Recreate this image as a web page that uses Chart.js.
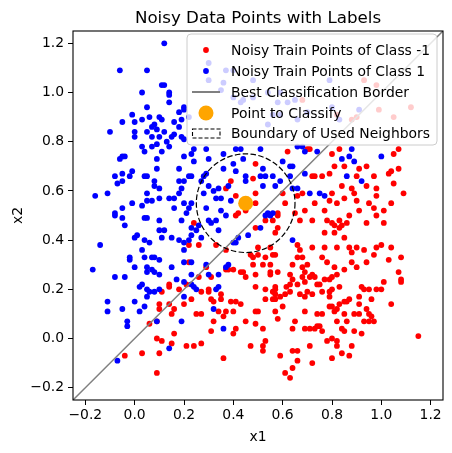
<!DOCTYPE html>
<html><head><meta charset="utf-8">
<script src="https://cdn.jsdelivr.net/npm/chart.js@4.4.1/dist/chart.umd.min.js"></script>
<style>html,body{margin:0;padding:0;background:#fff}</style>
</head><body>
<canvas id="c" width="452" height="453" style="display:block;width:452px;height:453px"></canvas>
<script>
const chartTitle = "Noisy Data Points with Labels";
const xLabel = "x1";
const yLabel = "x2";
const xTicks = [-0.2, 0.0, 0.2, 0.4, 0.6, 0.8, 1.0, 1.2];
const yTicks = [-0.2, 0.0, 0.2, 0.4, 0.6, 0.8, 1.0, 1.2];
const axisMin = -0.25, axisMax = 1.25;
const legendLabels = ["Noisy Train Points of Class -1", "Noisy Train Points of Class 1", "Best Classification Border", "Point to Classify", "Boundary of Used Neighbors"];
const pointToClassify = [0.45, 0.55];
const neighborRadius = 0.2;
const borderLine = [[-0.25, -0.25], [1.25, 1.25]];

const classNeg = [
[0.49,0.71],[0.48,0.65],[0.39,0.64],[0.37,0.61],[0.41,0.58],[0.49,0.59],[0.45,0.52],[0.49,0.55],[0.42,0.51],
[0.24,0.47],[0.22,0.38],[0.26,0.38],[0.22,0.31],[0.29,0.29],[0.26,0.25],[0.31,0.25],[0.14,0.22],[0.14,0.21],[0.18,0.20],[0.21,0.22],[0.11,0.19],[0.27,0.19],[0.30,0.19],[0.23,0.16],[0.10,0.14],[0.10,0.12],[0.14,0.14],[0.16,0.12],[0.15,0.10],[0.20,0.14],[0.06,0.06],[0.09,0.07],[0.25,0.10],[0.27,0.10],[0.16,0.02],[0.09,0.00],[0.11,-0.01],[0.15,-0.02],[0.21,-0.03],[0.24,-0.03],[0.27,-0.02],[0.03,-0.06],[0.10,-0.06],[-0.04,-0.07],[0.09,-0.14],[0.36,-0.08],[0.33,0.38],[0.37,0.36],[0.37,0.28],[0.38,0.28],[0.40,0.28],[0.43,0.27],[0.44,0.27],[0.45,0.25],[0.49,0.26],[0.49,0.21],[0.48,0.30],[0.48,0.33],[0.47,0.34],[0.50,0.37],[0.49,0.45],[0.41,0.50],[0.30,0.20],[0.31,0.16],[0.35,0.18],[0.35,0.16],[0.39,0.15],[0.41,0.15],[0.43,0.14],[0.32,0.15],[0.34,0.11],[0.37,0.11],[0.40,0.11],[0.36,0.09],[0.32,0.07],[0.31,0.03],[0.45,0.07],[0.41,0.04],[0.40,0.02],[0.47,-0.03],[0.49,0.11],[0.49,0.06],
[0.62,0.76],[0.70,0.77],[0.71,0.77],[0.83,0.77],[0.80,0.75],[1.05,0.75],[1.07,0.77],[0.81,0.70],[0.85,0.70],[0.91,0.69],[0.94,0.70],[1.04,0.68],[1.07,0.69],[0.72,0.66],[0.73,0.66],[0.76,0.66],[0.79,0.67],[0.90,0.66],[0.97,0.66],[1.03,0.67],[1.05,0.63],[0.60,0.59],[0.61,0.55],[0.66,0.58],[0.68,0.59],[0.84,0.62],[0.88,0.61],[0.89,0.59],[0.94,0.62],[0.98,0.61],[0.98,0.58],[1.09,0.59],[0.80,0.59],[0.73,0.55],[0.79,0.56],[0.82,0.55],[0.85,0.57],[0.90,0.56],[0.95,0.55],[0.97,0.53],[1.01,0.52],[1.04,0.55],[0.69,0.52],[0.65,0.51],[0.58,0.51],[0.77,0.52],[0.91,0.52],
[0.53,0.48],[0.56,0.48],[0.58,0.50],[0.58,0.45],[0.57,0.43],[0.67,0.48],[0.72,0.48],[0.78,0.48],[0.80,0.47],[0.81,0.46],[0.83,0.45],[0.84,0.46],[0.86,0.47],[0.87,0.50],[0.83,0.48],[0.77,0.43],[0.81,0.43],[0.85,0.41],[0.94,0.47],[0.98,0.50],[1.01,0.47],[0.55,0.37],[0.56,0.34],[0.57,0.34],[0.53,0.33],[0.50,0.34],[0.52,0.30],[0.55,0.30],[0.55,0.27],[0.55,0.26],[0.58,0.27],[0.66,0.38],[0.67,0.36],[0.66,0.33],[0.68,0.33],[0.64,0.30],[0.72,0.37],[0.77,0.37],[0.82,0.37],[0.87,0.37],[0.88,0.35],[0.90,0.37],[0.93,0.36],[0.97,0.34],[0.98,0.37],[1.00,0.38],[1.04,0.37],[1.08,0.33],[1.03,0.32],[0.76,0.33],[0.78,0.31],[0.88,0.31],[0.90,0.29],[0.94,0.31],[0.85,0.28],[0.81,0.29],[0.68,0.29],[0.70,0.30],[0.69,0.27],[0.68,0.25],[0.72,0.26],[0.63,0.26],[0.64,0.24],[0.615,0.21],[0.63,0.22],[0.73,0.25],[0.71,0.25],[0.74,0.22],[0.77,0.24],[0.79,0.24],[0.80,0.25],[0.82,0.26],[0.66,0.22],[0.69,0.23],[1.01,0.23],[1.07,0.27],[1.08,0.23],[1.08,0.24],[0.57,0.21],[0.57,0.20],[0.57,0.18],[0.56,0.19],[0.53,0.20],[0.61,0.18],[0.59,0.17],[0.63,0.19],[0.67,0.18],[0.70,0.19],[0.72,0.18],[0.76,0.19],[0.79,0.19],[0.83,0.21],[0.80,0.20],[0.75,0.22],[0.92,0.21],[0.93,0.20],[0.95,0.20],[0.98,0.20],[1.00,0.20],[0.91,0.17],[0.86,0.15],[0.87,0.16],[0.96,0.16],[0.79,0.17],[0.53,0.16],[0.56,0.16],[0.57,0.16],[0.60,0.13],[0.69,0.17],[0.57,0.11],[0.58,0.08],[0.50,0.11],[0.79,0.13],[0.80,0.13],[0.82,0.12],[0.81,0.11],[0.83,0.14],[0.85,0.15],[0.91,0.14],[0.91,0.10],[0.89,0.10],[0.94,0.12],[0.95,0.10],[0.96,0.09],[0.97,0.07],[0.93,0.07],[0.95,0.07],[0.85,0.10],[0.69,0.11],[0.74,0.10],[0.76,0.10],[0.65,0.07],[0.86,0.07],[0.82,0.07],[1.04,0.14],[0.52,0.04],[0.64,0.04],[0.69,0.04],[0.71,0.04],[0.73,0.04],[0.74,0.05],[0.76,0.03],[0.75,0.05],[0.84,0.04],[0.85,0.03],[0.89,0.03],[0.92,0.02],[0.53,-0.01],[0.52,-0.03],[0.52,-0.05],[0.71,-0.03],[0.78,-0.01],[0.80,0.00],[0.82,-0.01],[0.82,-0.03],[0.84,-0.06],[0.88,-0.03],[0.64,-0.05],[0.66,-0.05],[0.59,-0.07],[0.66,-0.09],[0.72,-0.10],[0.80,-0.08],[0.87,-0.07],[0.64,-0.12],[0.61,-0.14],[0.63,-0.16],[1.15,0.01],
[0.68,0.97],[0.93,1.05],[0.98,1.03],[1.05,0.90],[1.12,0.94],[0.82,0.91],[0.88,0.89],[0.90,0.90],[0.99,0.93]
];

const classPos = [
[0.12,1.20],[-0.06,1.09],[0.05,1.09],[0.11,1.03],[0.12,1.03],[0.14,1.00],[0.03,1.00],[0.14,0.99],[0.14,0.96],[0.05,0.94],[0.20,0.94],[0.20,0.93],[0.18,0.92],[-0.01,0.91],[-0.05,0.88],[0.00,0.88],[0.03,0.89],[0.06,0.90],[0.10,0.90],[0.11,0.89],[0.16,0.88],[0.19,0.89],[0.22,0.90],[-0.10,0.84],[0.00,0.84],[0.05,0.84],[0.07,0.86],[0.08,0.87],[0.09,0.85],[0.12,0.84],[0.18,0.86],[0.16,0.83],[0.10,0.82],[0.07,0.82],[0.00,0.82],[0.13,0.80],[0.19,0.82],[0.20,0.81],[0.15,0.82],[0.03,0.78],[0.09,0.79],[0.14,0.78],[0.11,0.76],[0.04,0.76],[0.07,0.78],[-0.05,0.74],[-0.04,0.74],[-0.06,0.73],[0.09,0.73],[0.20,0.74],[0.24,0.77],[0.23,0.75],[0.29,0.77],[0.24,0.72],[0.30,0.73],[0.36,0.75],[-0.01,0.68],[-0.02,0.66],[-0.05,0.67],[-0.08,0.66],[0.05,0.66],[0.04,0.66],[0.09,0.69],[0.18,0.69],[0.22,0.66],[0.23,0.66],[0.28,0.66],[0.29,0.67],[0.36,0.69],[0.41,0.68],[0.40,0.71],[0.44,0.73],[0.41,0.77],[0.43,0.77],[0.45,0.66],[0.45,0.64],[-0.11,0.59],[-0.16,0.58],[-0.07,0.63],[-0.05,0.64],[0.08,0.64],[0.08,0.62],[0.10,0.61],[0.18,0.64],[0.20,0.64],[0.19,0.61],[0.18,0.59],[0.16,0.57],[0.14,0.57],[0.05,0.59],[0.05,0.56],[0.07,0.56],[0.10,0.57],[0.03,0.54],[-0.01,0.55],[-0.05,0.53],[-0.08,0.51],[0.16,0.53],[0.20,0.55],[0.21,0.51],[0.22,0.53],[0.23,0.55],[0.28,0.59],[0.32,0.60],[0.34,0.61],[0.38,0.62],[0.33,0.57],[0.35,0.57],[0.39,0.56],[0.29,0.53],[0.35,0.52],[0.27,0.64],[0.30,0.62],
[-0.08,0.50],[-0.05,0.49],[-0.04,0.46],[0.04,0.49],[0.05,0.49],[0.10,0.48],[0.10,0.44],[0.19,0.48],[0.12,0.44],[0.11,0.41],[0.15,0.41],[0.01,0.42],[0.00,0.41],[0.04,0.40],[0.06,0.39],[0.03,0.36],[-0.14,0.38],[0.18,0.40],[0.20,0.39],[0.22,0.40],[0.23,0.42],[0.20,0.36],[0.23,0.45],[0.25,0.44],[0.26,0.46],[0.27,0.41],[0.30,0.48],[0.31,0.47],[0.33,0.48],[0.34,0.44],[0.37,0.50],[-0.02,0.33],[-0.02,0.32],[0.04,0.33],[0.07,0.33],[0.08,0.33],[0.10,0.32],[0.00,0.29],[0.05,0.29],[0.07,0.28],[0.05,0.27],[0.08,0.27],[0.10,0.26],[-0.17,0.28],[-0.04,0.25],[-0.08,0.25],[0.15,0.29],[0.20,0.31],[0.23,0.31],[0.23,0.26],[0.17,0.24],[0.20,0.23],[0.03,0.22],[0.02,0.21],[0.05,0.20],[0.06,0.19],[0.08,0.19],[0.05,0.17],[0.10,0.20],[0.23,0.22],[0.24,0.21],[0.25,0.20],[0.20,0.17],[-0.11,0.15],[-0.11,0.11],[-0.05,0.12],[0.00,0.15],[0.02,0.11],[0.04,0.13],[-0.03,0.07],[-0.03,0.05],[0.09,0.07],[0.19,0.07],[0.14,-0.04],[-0.07,-0.09],[0.29,0.30],[0.30,0.26],[0.34,0.26],[0.37,0.29],[0.38,0.30],[0.34,0.21],[0.33,0.20],[0.32,0.12],[0.36,0.04],[0.40,0.39],[0.41,0.39],[0.42,0.41],[0.46,0.42],
[0.51,0.77],[0.66,0.78],[0.68,0.78],[0.69,0.76],[0.74,0.76],[0.88,0.77],[0.84,0.73],[0.87,0.74],[0.89,0.72],[1.00,0.74],[0.60,0.72],[0.63,0.70],[0.64,0.70],[0.52,0.69],[0.53,0.66],[0.56,0.66],[0.51,0.66],[0.57,0.62],[0.59,0.64],[0.63,0.66],[0.69,0.67],[0.64,0.61],[0.66,0.61],[0.86,0.66],[0.92,0.64],[0.71,0.59],[0.75,0.59],[0.77,0.58],[0.52,0.62],[0.54,0.51],[0.56,0.51],
[0.51,0.45],[0.55,0.50],[0.53,0.50],[0.64,0.40],
[0.30,1.12],[0.37,1.09],[0.40,1.09],[0.36,1.04],[0.48,1.05],[0.40,0.98],[0.44,0.97],[0.48,0.98],[0.43,0.96],[0.54,1.00],[0.59,1.00],[0.58,0.96],[0.62,0.96],[0.65,0.97],[0.56,0.91],[0.59,0.91],[0.54,0.87],[0.66,0.89],[0.70,0.92],[0.80,0.94],[0.83,0.89],[0.91,0.93],[0.79,1.05],[0.30,1.05],[0.35,1.01]
];

const colNeg = '#ff0000', colPos = '#0000ff', colPoint = '#ffa500', colLine = '#808080';
const FONT = '"DejaVu Sans", sans-serif';
const toXY = a => a.map(p => ({x: p[0], y: p[1]}));
const fmt = v => (Math.abs(v) < 1e-9 ? 0 : v).toFixed(1).replace('-', '\u2212');

const decor = {
  id: 'decor',
  afterDatasetsDraw(chart) {
    const {ctx, chartArea: ca, scales: {x, y}} = chart;
    ctx.save();
    const cx = x.getPixelForValue(pointToClassify[0]);
    const cy = y.getPixelForValue(pointToClassify[1]);
    const r = x.getPixelForValue(pointToClassify[0] + neighborRadius) - cx;
    ctx.beginPath(); ctx.arc(cx, cy, r, 0, Math.PI * 2);
    ctx.setLineDash([5.5, 2.4]); ctx.strokeStyle = '#000'; ctx.lineWidth = 1.2; ctx.stroke();
    ctx.setLineDash([]);
    ctx.strokeStyle = '#000'; ctx.lineWidth = 1.1;
    ctx.strokeRect(ca.left, ca.top, ca.right - ca.left, ca.bottom - ca.top);
    ctx.fillStyle = '#000'; ctx.textAlign = 'center'; ctx.textBaseline = 'alphabetic';
    ctx.font = '16.7px ' + FONT;
    ctx.fillText(chartTitle, (ca.left + ca.right) / 2, 23);
    ctx.font = '13.9px ' + FONT;
    ctx.fillText(xLabel, (ca.left + ca.right) / 2, 441);
    ctx.save(); ctx.translate(22, (ca.top + ca.bottom) / 2); ctx.rotate(-Math.PI / 2);
    ctx.fillText(yLabel, 0, 0); ctx.restore();
    const lx = 187, ly = 34, lw = 250, lh = 111, rad = 4;
    ctx.beginPath();
    ctx.moveTo(lx + rad, ly); ctx.lineTo(lx + lw - rad, ly); ctx.arcTo(lx + lw, ly, lx + lw, ly + rad, rad);
    ctx.lineTo(lx + lw, ly + lh - rad); ctx.arcTo(lx + lw, ly + lh, lx + lw - rad, ly + lh, rad);
    ctx.lineTo(lx + rad, ly + lh); ctx.arcTo(lx, ly + lh, lx, ly + lh - rad, rad);
    ctx.lineTo(lx, ly + rad); ctx.arcTo(lx, ly, lx + rad, ly, rad); ctx.closePath();
    ctx.fillStyle = 'rgba(255,255,255,0.8)'; ctx.fill();
    ctx.strokeStyle = '#cccccc'; ctx.lineWidth = 1; ctx.stroke();
    const rows = [50, 71, 92, 113, 133.5];
    const mx = 206;
    ctx.fillStyle = colNeg; ctx.beginPath(); ctx.arc(mx, rows[0], 2.9, 0, Math.PI * 2); ctx.fill();
    ctx.fillStyle = colPos; ctx.beginPath(); ctx.arc(mx, rows[1], 2.9, 0, Math.PI * 2); ctx.fill();
    ctx.strokeStyle = colLine; ctx.lineWidth = 2; ctx.beginPath(); ctx.moveTo(192, rows[2]); ctx.lineTo(220, rows[2]); ctx.stroke();
    ctx.fillStyle = colPoint; ctx.beginPath(); ctx.arc(mx, rows[3], 7.5, 0, Math.PI * 2); ctx.fill();
    ctx.strokeStyle = '#000'; ctx.lineWidth = 1.1; ctx.setLineDash([4, 2]);
    ctx.strokeRect(192.5, rows[4] - 4.5, 27.5, 9); ctx.setLineDash([]);
    ctx.fillStyle = '#000'; ctx.textAlign = 'left'; ctx.textBaseline = 'middle';
    ctx.font = '13.9px ' + FONT;
    legendLabels.forEach((t, i) => ctx.fillText(t, 231, rows[i] + 1));
    ctx.restore();
  }
};

const axisCommon = (ticks) => ({
  type: 'linear', min: axisMin, max: axisMax,
  afterBuildTicks: s => { s.ticks = ticks.map(v => ({value: v})); },
  grid: {display: true, drawOnChartArea: false, drawTicks: true, tickLength: 5, color: '#000', lineWidth: 1},
  border: {display: false},
  ticks: {color: '#000', font: {family: FONT, size: 13.9}, callback: v => fmt(v), maxRotation: 0, autoSkip: false}
});

const xAxis = axisCommon(xTicks);
xAxis.afterFit = s => { s.height = 53; };
xAxis.ticks.padding = 2;
const yAxis = axisCommon(yTicks);
yAxis.afterFit = s => { s.width = 73; };
yAxis.ticks.padding = 4;

new Chart(document.getElementById('c'), {
  type: 'scatter',
  data: {
    datasets: [
      {label: legendLabels[3], data: toXY([pointToClassify]), backgroundColor: colPoint, pointRadius: 7.5, borderWidth: 0},
      {type: 'line', label: legendLabels[2], data: toXY(borderLine), borderColor: colLine, borderWidth: 1.5, pointRadius: 0, showLine: true, fill: false},
      {label: legendLabels[1], data: toXY(classPos), backgroundColor: colPos, pointRadius: 2.9, borderWidth: 0},
      {label: legendLabels[0], data: toXY(classNeg), backgroundColor: colNeg, pointRadius: 2.9, borderWidth: 0}
    ]
  },
  options: {
    responsive: false, animation: false, devicePixelRatio: 1,
    layout: {padding: {top: 31, right: 9, left: 0, bottom: 0}},
    plugins: {legend: {display: false}, tooltip: {enabled: false}, title: {display: false}},
    scales: {x: xAxis, y: yAxis}
  },
  plugins: [decor]
});
</script>
</body></html>
